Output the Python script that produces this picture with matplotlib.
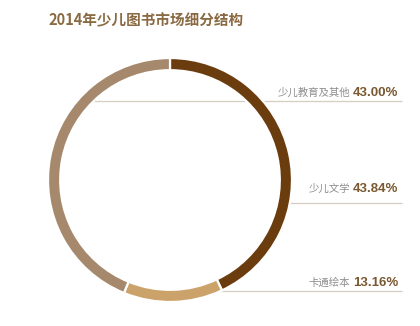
import matplotlib
matplotlib.use("Agg")
import matplotlib.pyplot as plt

title = "2014年少儿图书市场细分结构"
categories = ["少儿教育及其他", "卡通绘本", "少儿文学"]
values = [43.00, 13.16, 43.84]
labels_pct = ["43.00%", "13.16%", "43.84%"]
colors = ["#6b3c0e", "#cba36a", "#a6896c"]

# label rows (order shown on the right, top to bottom)
label_order = ["少儿教育及其他", "少儿文学", "卡通绘本"]

W, H = 420, 326
fig = plt.figure(figsize=(W / 100, H / 100), dpi=100)
fig.patch.set_facecolor("white")

# overlay axes in pixel coordinates (behind the ring)
ov = fig.add_axes([0, 0, 1, 1], zorder=0)
ov.set_xlim(0, W)
ov.set_ylim(H, 0)
ov.axis("off")

# ring axes
cx, cy, r = 170, 180, 122
pax = fig.add_axes([(cx - r) / W, (H - cy - r) / H, 2 * r / W, 2 * r / H], zorder=1)
pax.patch.set_alpha(0)
pax.pie(values, colors=colors, startangle=90, counterclock=False, radius=1.0,
        wedgeprops=dict(width=0.1, edgecolor="white", linewidth=1.6))
pax.set_xlim(-1, 1)
pax.set_ylim(-1, 1)
pax.set_aspect("equal")
pax.axis("off")

ov.text(48, 20, title, fontsize=10.5, color="#8a6a42", fontweight="bold",
        family=["Noto Sans CJK SC", "DejaVu Sans"], va="center", ha="left")

rows = {
    "少儿教育及其他": (93, 101, 85),
    "少儿文学": (189, 203, 290),
    "卡通绘本": (283, 291, 205),
}
for name in label_order:
    ty, ly, lx = rows[name]
    pct = labels_pct[categories.index(name)]
    ov.plot([lx, 402], [ly, ly], color="#d6cec3", lw=0.9, solid_capstyle="butt")
    ov.text(398, ty, pct, fontsize=9.5, fontweight="bold", color="#7a5830",
            family=["Liberation Sans", "DejaVu Sans"], ha="right", va="center")
    ov.text(350, ty, name, fontsize=7.5, color="#8c8c8c",
            family=["Noto Sans CJK SC", "DejaVu Sans"], ha="right", va="center")

fig.savefig("out.png", dpi=100, facecolor="white")
